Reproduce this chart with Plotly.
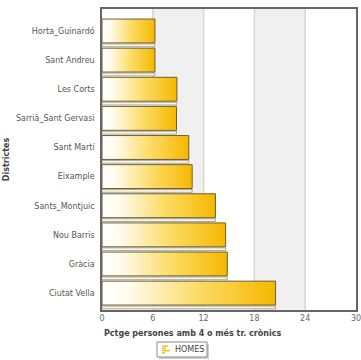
import plotly.graph_objects as go

districts = ["Horta_Guinardó", "Sant Andreu", "Les Corts", "Sarrià_Sant Gervasi",
             "Sant Martí", "Eixample", "Sants_Montjuic", "Nou Barris", "Gràcia", "Ciutat Vella"]
homes = [6.25, 6.25, 8.85, 8.8, 10.25, 10.65, 13.4, 14.6, 14.8, 20.5]
x_ticks = [0, 6, 12, 18, 24, 30]
series_name = "HOMES"
x_title = "Pctge persones amb 4 o més tr. crònics"
y_title = "Districtes"

FONT = "DejaVu Sans"
W, H = 361, 360
ML, MR, MT, MB = 102, 5, 9, 50
PW, PH = W - ML - MR, H - MT - MB
n = len(districts)
half = 0.41


def px(xp):
    return (xp - ML) / PW


def py(yp):
    return (H - MB - yp) / PH


fig = go.Figure()

for i, (name, v) in enumerate(zip(districts, homes)):
    c = n - 1 - i
    # thin depth stripe under each bar
    s0, s1 = c - half - 0.13, c - half - 0.035
    fig.add_trace(go.Scatter(
        x=[0, v, v, 0, 0], y=[s0, s0, s1, s1, s0], mode="lines", fill="toself",
        fillcolor="#fcf5e0", line=dict(color="#a8a8a8", width=1),
        showlegend=False, hoverinfo="skip"))
    fig.add_trace(go.Scatter(
        x=[0, v, v, 0, 0], y=[c - half, c - half, c + half, c + half, c - half],
        mode="lines", fill="toself",
        fillgradient=dict(type="horizontal",
                          colorscale=[[0, "#ffffff"], [0.15, "#fffbee"], [0.55, "#fcdc66"],
                                      [1, "#f6b800"]]),
        line=dict(color="#6e5f2a", width=1),
        name=series_name, showlegend=False,
        hovertemplate=name + ": %{x}<extra></extra>"))

shapes = []
for k in range(len(x_ticks) - 1):
    if k % 2 == 1:
        shapes.append(dict(type="rect", xref="x", yref="paper", x0=x_ticks[k], x1=x_ticks[k + 1],
                           y0=0, y1=1, fillcolor="#f0f0f0", line=dict(width=0), layer="below"))
for t in x_ticks[1:-1]:
    shapes.append(dict(type="line", xref="x", yref="paper", x0=t, x1=t, y0=0, y1=1,
                       line=dict(color="#d6d6d6", width=1.5), layer="below"))

# legend box (drawn manually to match compact size)
shapes.append(dict(type="rect", xref="paper", yref="paper", x0=px(159), x1=px(209),
                   y0=py(359), y1=py(344), fillcolor="#cfcfcf", line=dict(width=0)))
shapes.append(dict(type="rect", xref="paper", yref="paper", x0=px(157), x1=px(207),
                   y0=py(357), y1=py(342), fillcolor="white", line=dict(color="#8a8a8a", width=1)))
for j, (a, b) in enumerate([(162, 168), (162, 166), (162, 170), (162, 165)]):
    yy = 345.5 + j * 2.2
    shapes.append(dict(type="rect", xref="paper", yref="paper", x0=px(a), x1=px(b),
                       y0=py(yy + 1.5), y1=py(yy), fillcolor="#f2bd1a", line=dict(width=0)))

fig.update_layout(
    width=W, height=H,
    margin=dict(l=ML, r=MR, t=MT, b=MB, autoexpand=False),
    paper_bgcolor="white", plot_bgcolor="white",
    shapes=shapes,
    font=dict(family=FONT, size=8, color="#555555"),
    xaxis=dict(range=[0, 30], tickvals=x_ticks, ticktext=[str(t) for t in x_ticks],
               showgrid=False, zeroline=False, showline=True, linecolor="#666666",
               linewidth=1.5, mirror=True, ticks="", tickfont=dict(size=8, color="#666666"),
               automargin=False, ticklabeloverflow="allow"),
    yaxis=dict(range=[-0.58, 9.755], tickvals=list(range(n)),
               ticktext=list(reversed(districts)),
               showgrid=False, zeroline=False, showline=True, linecolor="#666666",
               linewidth=1.5, mirror=True, ticks="", ticklabelstandoff=4,
               tickfont=dict(size=8, color="#555555"), automargin=False),
    showlegend=False,
    annotations=[
        dict(text="<b>" + x_title + "</b>", xref="paper", yref="paper", x=0, y=-0.075,
             xanchor="left", yanchor="middle", showarrow=False,
             font=dict(size=8, color="#444444")),
        dict(text="<b>" + y_title + "</b>", xref="paper", yref="paper", x=-0.375, y=0.5,
             xanchor="center", yanchor="middle", textangle=-90, showarrow=False,
             font=dict(size=8, color="#444444")),
        dict(text=series_name, xref="paper", yref="paper", x=px(173), y=py(349.5),
             xanchor="left", yanchor="middle", showarrow=False,
             font=dict(size=8, color="#444444")),
    ],
)

fig.write_html("out.html")
